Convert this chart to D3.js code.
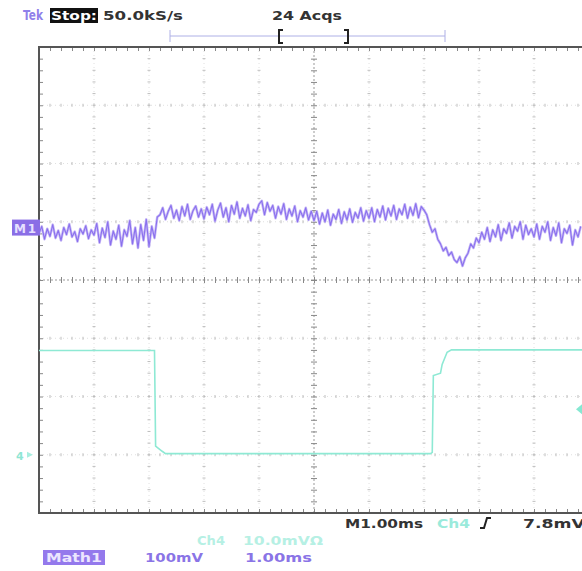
<!DOCTYPE html>
<html>
<head>
<meta charset="utf-8">
<script src="https://cdn.jsdelivr.net/npm/d3@7"></script>
<style>
  body { margin: 0; background: #fff; }
  svg { display: block; }
  text { font-family: "DejaVu Sans", sans-serif; font-weight: bold; }
</style>
</head>
<body>
<div id="scope"></div>
<script>
// Math1 trace (mV), one sample every 0.05 ms starting at 0 ms
var mathStep = 0.05;
var mathVals = [
  80, 92, 70, 88, 75, 95, 72, 85, 68, 90, 78, 96, 74, 83, 66, 88, 79, 93, 71, 86,
  77, 97, 64, 89, 73, 100, 60, 84, 70, 94, 58, 86, 75, 102, 62, 90, 55, 95, 68, 104,
  57, 92, 72, 108, 112, 124, 104, 118, 128, 106, 120, 102, 126, 110, 130, 104, 119, 127, 108, 122,
  105, 125, 112, 130, 101, 120, 132, 108, 124, 100, 128, 113, 134, 106, 123, 110, 129, 102, 121, 116,
  130, 136, 112, 133, 118, 128, 106, 126, 113, 131, 104, 122, 110, 127, 100, 119, 108, 124, 103, 118,
  102, 118, 96, 115, 100, 120, 94, 113, 104, 121, 97, 117, 103, 122, 99, 116, 106, 124, 101, 119,
  106, 124, 100, 121, 108, 127, 103, 123, 110, 128, 104, 122, 112, 130, 106, 125, 111, 131, 107, 126,
  120, 112, 95, 82, 88, 70, 62, 50, 56, 42, 48, 35, 30, 40, 24, 38, 46, 62, 55, 72,
  64, 82, 70, 90, 66, 86, 74, 95, 68, 88, 80, 98, 72, 92, 84, 100, 70, 94, 78, 88,
  74, 96, 70, 92, 82, 100, 68, 90, 76, 98, 64, 88, 80, 94, 60, 86, 74, 92
];
var mathRef = 90;        // M1 marker level, mV

// Ch4 trace: times (ms) and values (mV, relative to its ground marker)
var ch4Time = [0, 2.10, 2.12, 2.24, 2.30, 7.12, 7.15, 7.17, 7.30, 7.33, 7.42, 7.50, 9.9];
var ch4Vals = [17.9, 17.9, 1.5, 0.6, 0.2, 0.2, 0.4, 13.6, 14.0, 15.5, 17.6, 18.0, 18.0];
var ch4Offset = -30;     // ground marker at -3 div
var trigLevel = 7.8;     // mV

var w = 582, h = 571;
var gLeft = 39, gTop = 47, gRight = 589, gBottom = 513;

var x = d3.scaleLinear().domain([0, 10]).range([gLeft, gRight]);
var yMath = d3.scaleLinear().domain([-400, 400]).range([gBottom, gTop]);
var yCh4 = d3.scaleLinear().domain([-40, 40]).range([gBottom, gTop]);

var svg = d3.select("#scope")
  .append("svg")
    .attr("width", w)
    .attr("height", h);

svg.append("rect").attr("width", w).attr("height", h).attr("fill", "#fff");

// graticule
var grid = svg.append("g");
var majorX = d3.range(1, 10), majorY = d3.range(-300, 301, 100);
var minorX = d3.range(0, 10.01, 0.2), minorY = d3.range(-400, 401, 20);

majorX.filter(function(d) { return d != 5; }).forEach(function(d) {
  grid.append("line")
      .attr("x1", x(d)).attr("x2", x(d))
      .attr("y1", gTop).attr("y2", gBottom)
      .attr("stroke", "#e0e0e0").attr("stroke-dasharray", "1,3");
  grid.selectAll(null).data(minorY).enter().append("line")
      .attr("x1", x(d) - 1.5).attr("x2", x(d) + 1.5)
      .attr("y1", function(v) { return yMath(v); })
      .attr("y2", function(v) { return yMath(v); })
      .attr("stroke", "#bdbdbd");
});
majorY.filter(function(d) { return d != 0; }).forEach(function(d) {
  grid.append("line")
      .attr("x1", gLeft).attr("x2", gRight)
      .attr("y1", yMath(d)).attr("y2", yMath(d))
      .attr("stroke", "#e0e0e0").attr("stroke-dasharray", "1,3");
  grid.selectAll(null).data(minorX).enter().append("line")
      .attr("x1", function(v) { return x(v); })
      .attr("x2", function(v) { return x(v); })
      .attr("y1", yMath(d) - 1.5).attr("y2", yMath(d) + 1.5)
      .attr("stroke", "#bdbdbd");
});

// center crosshair with minor ticks
function clean(g, col) {
  g.select(".domain").remove();
  g.selectAll(".tick text").remove();
  g.selectAll(".tick line").attr("stroke", col);
}
svg.append("line")
    .attr("x1", gLeft).attr("x2", gRight)
    .attr("y1", yMath(0)).attr("y2", yMath(0))
    .attr("stroke", "#999").attr("stroke-dasharray", "2,2");
svg.append("line")
    .attr("x1", x(5)).attr("x2", x(5))
    .attr("y1", gTop).attr("y2", gBottom)
    .attr("stroke", "#999").attr("stroke-dasharray", "2,2");
svg.append("g")
    .attr("transform", "translate(0," + (yMath(0) - 3) + ")")
    .call(d3.axisBottom(x).tickValues(minorX).tickSize(6).tickSizeOuter(0))
    .call(clean, "#888");
svg.append("g")
    .attr("transform", "translate(" + (x(5) - 3) + ",0)")
    .call(d3.axisRight(yMath).tickValues(minorY).tickSize(6).tickSizeOuter(0))
    .call(clean, "#888");

// frame ticks
svg.append("g")
    .attr("transform", "translate(0," + gTop + ")")
    .call(d3.axisBottom(x).tickValues(minorX).tickSize(4).tickSizeOuter(0))
    .call(clean, "#888");
svg.append("g")
    .attr("transform", "translate(0," + gBottom + ")")
    .call(d3.axisTop(x).tickValues(minorX).tickSize(4).tickSizeOuter(0))
    .call(clean, "#888");
svg.append("g")
    .attr("transform", "translate(" + gLeft + ",0)")
    .call(d3.axisRight(yMath).tickValues(minorY).tickSize(4).tickSizeOuter(0))
    .call(clean, "#888");

svg.append("rect")
    .attr("x", gLeft).attr("y", gTop)
    .attr("width", gRight - gLeft).attr("height", gBottom - gTop)
    .attr("fill", "none").attr("stroke", "#555").attr("stroke-width", 2);

// traces
var ch4Line = d3.line()
    .x(function(d, i) { return x(ch4Time[i]); })
    .y(function(d) { return yCh4(d + ch4Offset); });
svg.append("path")
    .datum(ch4Vals)
    .attr("d", ch4Line)
    .attr("fill", "none")
    .attr("stroke", "#8ee9d4")
    .attr("stroke-width", 1.6);

var mathLine = d3.line()
    .x(function(d, i) { return x(i * mathStep); })
    .y(function(d) { return yMath(d); });
svg.append("path")
    .datum(mathVals)
    .attr("d", mathLine)
    .attr("fill", "none")
    .attr("stroke", "#c8baf6")
    .attr("stroke-width", 2.6)
    .attr("stroke-linejoin", "round");
svg.append("path")
    .datum(mathVals)
    .attr("d", mathLine)
    .attr("fill", "none")
    .attr("stroke", "#8a70ee")
    .attr("stroke-width", 1.1)
    .attr("stroke-linejoin", "round");

// channel markers
var my = yMath(mathRef);
svg.append("rect").attr("x", 12).attr("y", my - 8).attr("width", 28).attr("height", 16)
    .attr("fill", "#8a6ee6");
svg.append("text").attr("x", 14).attr("y", my + 5).attr("font-size", 12)
    .attr("fill", "#e6e0ff").attr("textLength", 22).text("M1");

var cy = yCh4(ch4Offset);
svg.append("text").attr("x", 16).attr("y", cy + 5).attr("font-size", 11)
    .attr("fill", "#8fe6d4").text("4");
svg.append("path")
    .attr("d", "M27," + (cy - 3) + "L33," + cy + "L27," + (cy + 3) + "Z")
    .attr("fill", "#a8eee0");

var ty = yCh4(trigLevel + ch4Offset);
svg.append("path")
    .attr("d", "M576," + ty + "L582," + (ty - 5) + "L582," + (ty + 5) + "Z")
    .attr("fill", "#86e8d2");

// record bar
svg.append("line").attr("x1", 170).attr("x2", 445).attr("y1", 36).attr("y2", 36)
    .attr("stroke", "#aeb0e6");
[170, 445].forEach(function(v) {
  svg.append("line").attr("x1", v).attr("x2", v).attr("y1", 30).attr("y2", 42)
      .attr("stroke", "#aeb0e6");
});
svg.append("path").attr("d", "M283,30L279,30L279,43L283,43")
    .attr("fill", "none").attr("stroke", "#222").attr("stroke-width", 2);
svg.append("path").attr("d", "M344,30L348,30L348,43L344,43")
    .attr("fill", "none").attr("stroke", "#222").attr("stroke-width", 2);

// texts
function label(t, xx, yy, len, col, size) {
  return svg.append("text")
      .attr("x", xx).attr("y", yy)
      .attr("font-size", size || 13)
      .attr("fill", col)
      .attr("textLength", len)
      .attr("lengthAdjust", "spacingAndGlyphs")
      .text(t);
}
label("Tek", 23, 20, 20, "#8f80ea", 14);
svg.append("rect").attr("x", 50).attr("y", 8).attr("width", 48).attr("height", 15).attr("fill", "#111");
label("Stop:", 51, 20, 46, "#fff");
label("50.0kS/s", 103, 20, 80, "#333");
label("24 Acqs", 272, 20, 70, "#333");

label("M1.00ms", 345, 528, 78, "#333");
label("Ch4", 437, 528, 33, "#9aeadb");
svg.append("path").attr("d", "M480,528L484,528L487,518L491,518")
    .attr("fill", "none").attr("stroke", "#222").attr("stroke-width", 2);
label("7.8mV", 523, 528, 62, "#333");

label("Ch4", 197, 545, 28, "#b6f0e4");
label("10.0mV\u03a9", 243, 545, 80, "#b6f0e4");

svg.append("rect").attr("x", 43).attr("y", 550).attr("width", 62).attr("height", 15).attr("fill", "#9479ec");
label("Math1", 46, 562, 56, "#ece6ff");
label("100mV", 145, 562, 58, "#8a74e6");
label("1.00ms", 245, 562, 67, "#8a74e6");
</script>
</body>
</html>
